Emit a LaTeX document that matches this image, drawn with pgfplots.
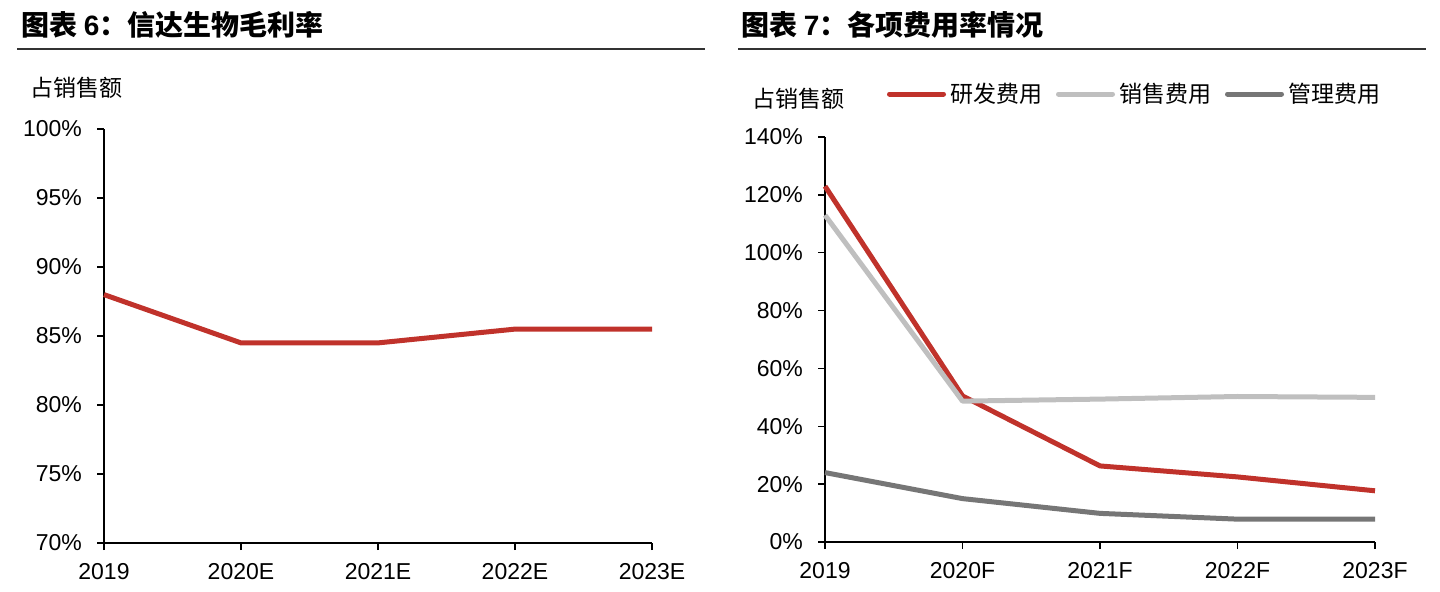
\documentclass[border=0pt]{standalone}
\usepackage{fontspec}
\setmainfont{Liberation Sans}
\newfontfamily\cjk{Noto Sans CJK SC}
\usepackage{pgfplots}
\pgfplotsset{compat=1.18}
\definecolor{gmred}{RGB}{192,50,43}
\definecolor{sellgray}{RGB}{191,191,191}
\definecolor{admgray}{RGB}{118,118,118}

\pgfplotsset{
  panel/.style={
    scale only axis,
    axis lines*=left,
    axis line style={line width=0.75pt, black},
    tick style={line width=0.75pt, black},
    tick align=outside,
    major tick length=3.5pt,
    xmin=0, xmax=4,
    xtick={0,1,2,3,4},
    ticklabel style={font=\fontsize{11.5}{12}\selectfont},
    yticklabel style={xshift=-4pt},
    xticklabel style={yshift=-3pt},
    /pgf/number format/assume math mode=true,
    yticklabel={\pgfmathprintnumber{\tick}\%},
    every axis plot/.append style={line width=2.5pt, line join=round},
    clip=false,
  },
}

\begin{document}
\begin{tikzpicture}
\path[use as bounding box] (0,0) rectangle (720pt,295.5pt);

% titles and rules
\node[anchor=west, inner sep=0pt] at (10.5pt,283pt)
  {\fontsize{14}{15}\selectfont\bfseries{\cjk 图表 }6{\cjk ：信达生物毛利率}};
\node[anchor=west, inner sep=0pt] at (370.5pt,283pt)
  {\fontsize{14}{15}\selectfont\bfseries{\cjk 图表 }7{\cjk ：各项费用率情况}};
\draw[line width=0.75pt, black!80] (8.5pt,271pt) -- (352.5pt,271pt);
\draw[line width=0.75pt, black!80] (369pt,271pt) -- (713pt,271pt);

\node[anchor=west, inner sep=0pt] at (15pt,251.5pt) {\cjk\fontsize{11.5}{12}\selectfont 占销售额};
\node[anchor=west, inner sep=0pt] at (376pt,246pt) {\cjk\fontsize{11.5}{12}\selectfont 占销售额};

% left: gross margin
\begin{axis}[panel,
  at={(52pt,24pt)}, anchor=origin,
  width=274pt, height=207pt,
  ymin=70, ymax=100, ytick={70,75,...,100},
  xticklabels={2019,2020E,2021E,2022E,2023E},
]
\addplot[gmred] coordinates {(0,88) (1,84.5) (2,84.5) (3,85.5) (4,85.5)};
\end{axis}

% right: expense ratios
\begin{axis}[panel,
  at={(412.5pt,24.5pt)}, anchor=origin,
  width=275pt, height=202.5pt,
  ymin=0, ymax=140, ytick={0,20,...,140},
  xticklabels={2019,2020F,2021F,2022F,2023F},
  legend columns=3,
  legend style={at={(axis description cs:0.112,1.106)}, anchor=west,
    draw=none, fill=none, inner sep=0pt,
    font=\cjk\fontsize{11.5}{12}\selectfont,
    /tikz/every even column/.append style={column sep=5pt}},
  legend image code/.code={\draw[#1, line width=2.5pt, line cap=round] (0pt,0pt) -- (27pt,0pt);},
]
\addplot[gmred] coordinates {(0,123) (1,50.5) (2,26.3) (3,22.5) (4,17.7)};
\addplot[sellgray] coordinates {(0,113) (1,48.7) (2,49.4) (3,50.3) (4,50)};
\addplot[admgray] coordinates {(0,24) (1,15) (2,9.9) (3,7.9) (4,7.9)};
\legend{研发费用,销售费用,管理费用}
\end{axis}
\end{tikzpicture}
\end{document}
